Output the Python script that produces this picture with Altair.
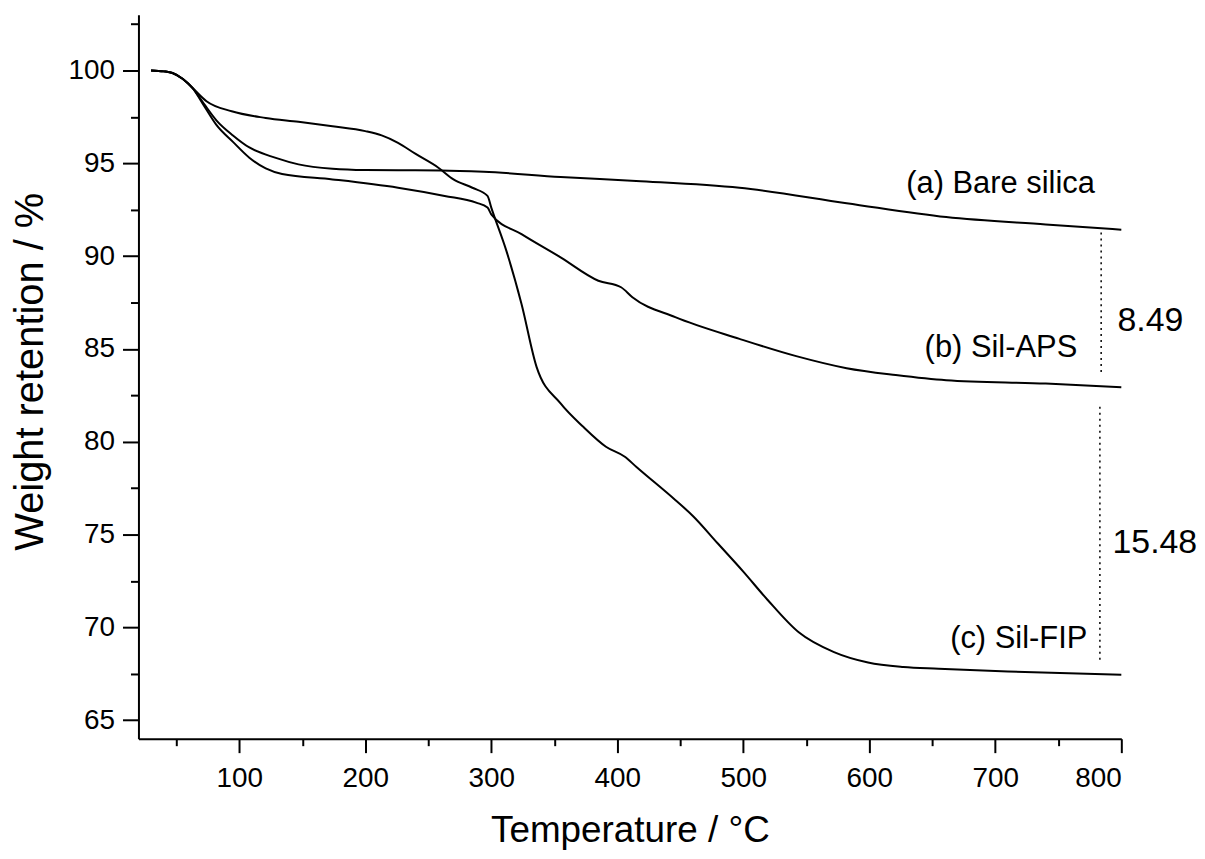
import altair as alt
import pandas as pd

# ---- data ----
T_a = [30, 40, 47, 55, 63, 72, 82, 95, 108, 129, 147, 174, 200, 226, 260, 294, 355, 415, 497, 582, 661, 740, 800]
W_a = [100.0, 99.95, 99.86, 99.55, 99.05, 98.2, 97.3, 96.5, 95.85, 95.29, 94.94, 94.70, 94.63, 94.62, 94.61, 94.54, 94.26, 94.05, 93.68, 92.85, 92.1, 91.7, 91.42]

T_b = [30, 40, 47, 55, 63, 72, 82, 95, 108, 121, 134, 174, 226, 263, 288, 297, 300, 324, 355, 385, 403, 412, 446, 497, 542, 582, 621, 661, 740, 800]
W_b = [100.0, 99.95, 99.86, 99.55, 99.05, 98.1, 97.05, 96.15, 95.3, 94.72, 94.42, 94.13, 93.68, 93.24, 92.88, 92.61, 92.25, 91.18, 89.93, 88.67, 88.32, 87.78, 86.71, 85.54, 84.61, 83.96, 83.59, 83.31, 83.13, 82.93]

T_c = [30, 40, 47, 55, 63, 74, 94, 121, 147, 174, 200, 213, 226, 240, 258, 270, 285, 297, 300, 312, 324, 336, 355, 373, 391, 406, 415, 446, 460, 480, 500, 519, 544, 572, 599, 627, 655, 710, 800]
W_c = [100.0, 99.95, 99.86, 99.55, 99.05, 98.34, 97.8, 97.44, 97.23, 96.99, 96.73, 96.5, 96.1, 95.5, 94.76, 94.13, 93.68, 93.24, 92.61, 90.28, 87.42, 84.02, 82.06, 80.80, 79.73, 79.19, 78.65, 76.86, 76.0, 74.5, 73.0, 71.5, 69.73, 68.66, 68.1, 67.86, 67.77, 67.62, 67.45]

series_names = ["(a) Bare silica", "(b) Sil-APS", "(c) Sil-FIP"]

# annotation texts
label_text = ["(a) Bare silica", "(b) Sil-APS", "(c) Sil-FIP"]
label_T = [779, 765, 773]
label_W = [93.4, 84.56, 68.9]

diff_text = ["8.49", "15.48"]
diff_T = [797, 793]
diff_W = [85.95, 74.0]

rule_T = [784, 783]
rule_W1 = [91.27, 81.88]
rule_W2 = [83.54, 68.25]

x_ticks = [50, 100, 150, 200, 250, 300, 350, 400, 450, 500, 550, 600, 650, 700, 750, 800]
y_ticks = [65, 67.5, 70, 72.5, 75, 77.5, 80, 82.5, 85, 87.5, 90, 92.5, 95, 97.5, 100, 102.5]

# ---- build tables ----
rows = []
for name, T, W in zip(series_names, [T_a, T_b, T_c], [W_a, W_b, W_c]):
    for t, w in zip(T, W):
        rows.append({"series": name, "T": t, "W": w})
curves = pd.DataFrame(rows)
labels = pd.DataFrame({"text": label_text, "T": label_T, "W": label_W})
diffs = pd.DataFrame({"text": diff_text, "T": diff_T, "W": diff_W})
rules = pd.DataFrame({"T": rule_T, "W1": rule_W1, "W2": rule_W2})

FONT = "Liberation Sans"

x_scale = alt.Scale(domain=[20, 800], nice=False, zero=False)
y_scale = alt.Scale(domain=[64, 103], nice=False, zero=False)

x_axis = alt.Axis(
    values=x_ticks,
    title="Temperature / °C",
    labelExpr="datum.value % 100 === 0 ? datum.label : ''",
    tickSize={"condition": {"test": "datum.value % 100 === 0", "value": 14}, "value": 7},
    labelPadding=12,
    titleBaseline="alphabetic",
    titleY=103,
    titleFontSize=37,
    grid=False,
)
y_axis = alt.Axis(
    values=y_ticks,
    title="Weight retention / %",
    labelExpr="datum.value % 5 === 0 ? datum.label : ''",
    tickSize={"condition": {"test": "datum.value % 5 === 0", "value": 16}, "value": 8},
    labelPadding=8,
    titleBaseline="alphabetic",
    titleX=-96,
    titleY=358,
    titleFontSize=40,
    grid=False,
)

lines = alt.Chart(curves).mark_line(color="black", strokeWidth=2, interpolate="monotone").encode(
    x=alt.X("T:Q", scale=x_scale, axis=x_axis),
    y=alt.Y("W:Q", scale=y_scale, axis=y_axis),
    detail="series:N",
)

dotted = alt.Chart(rules).mark_rule(color="black", strokeWidth=1.5, strokeDash=[2, 4]).encode(
    x="T:Q", y="W1:Q", y2="W2:Q"
)

label_marks = alt.Chart(labels).mark_text(
    align="right", baseline="alphabetic", font=FONT, fontSize=31, color="black"
).encode(x="T:Q", y="W:Q", text="text:N")

diff_marks = alt.Chart(diffs).mark_text(
    align="left", baseline="alphabetic", font=FONT, fontSize=34, color="black"
).encode(x="T:Q", y="W:Q", text="text:N")

chart = alt.layer(lines, dotted, label_marks, diff_marks).properties(
    width=987,
    height=727,
    autosize=alt.AutoSizeParams(type="none"),
    padding={"left": 131, "top": 5, "right": 76, "bottom": 112},
).configure(
    background="white"
).configure_view(
    stroke=None
).configure_axis(
    grid=False,
    domainColor="black",
    domainWidth=2,
    tickColor="black",
    tickWidth=2,
    labelFont=FONT,
    labelFontSize=28,
    labelColor="black",
    titleFont=FONT,
    titleFontWeight="normal",
    titleColor="black",
)

chart.save("out.html", embed_options={"renderer": "svg", "actions": False})
